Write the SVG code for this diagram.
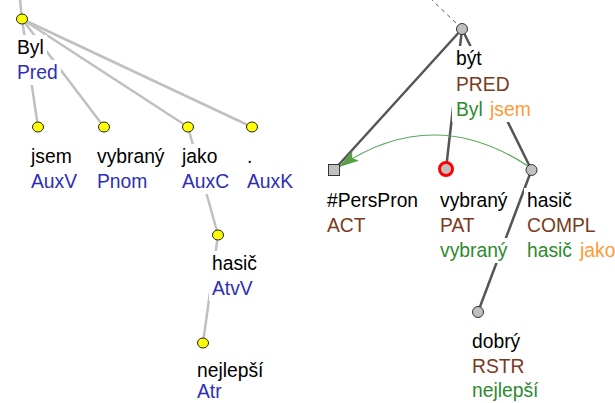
<svg xmlns="http://www.w3.org/2000/svg" width="615" height="403" viewBox="0 0 615 403">
<style>
text{font-family:"Liberation Sans",Arial,sans-serif;font-size:19.3px}
.w{fill:#000}
.af{fill:#2e2eb4}
.fn{fill:#7b3a20}
.gr{fill:#2d8a2d}
.or{fill:#ff9a36}
.bg{fill:#fff}
.la{stroke:#c0c0c0;stroke-width:2.5;fill:none;stroke-linecap:round}
.ld{stroke:#555;stroke-width:2.5;fill:none;stroke-linecap:round}
.ny{fill:#ffff00;stroke:#222;stroke-width:1}
.ng{fill:#c0c0c0;stroke:#333;stroke-width:1}
</style>
<defs>
<marker id="ah" markerUnits="userSpaceOnUse" markerWidth="24" markerHeight="14" viewBox="-22 -7 24 14" refX="0" refY="0" orient="auto">
<path d="M0,0 L-20,-6 L-16,0 L-20,6 Z" fill="#5a9e4a"/>
</marker>
</defs>
<g id="connectors">
<line class="la" x1="20" y1="0" x2="22" y2="19" stroke-width="2"/>
<line class="la" x1="22" y1="19" x2="38" y2="127"/>
<line class="la" x1="22" y1="19" x2="104" y2="127" stroke-width="1.5"/>
<line class="la" x1="22" y1="19" x2="188" y2="127" stroke-width="3"/>
<line class="la" x1="22" y1="19" x2="252" y2="127" stroke-width="3"/>
<line class="la" x1="188" y1="127" x2="218" y2="235"/>
<line class="la" x1="218" y1="235" x2="203" y2="343"/>
<line x1="430" y1="-2" x2="458" y2="25" stroke="#555" stroke-width="1" stroke-dasharray="4,4"/>
<line class="ld" x1="462" y1="29" x2="334" y2="170" stroke-width="3"/>
<line class="ld" x1="462" y1="29" x2="446" y2="169"/>
<line class="ld" x1="462" y1="29" x2="531.5" y2="170" stroke-width="2"/>
<line class="ld" x1="531.5" y1="170" x2="478" y2="312"/>
<path d="M528,166 Q432.5,103.5 339,167" fill="none" stroke="#5aa85a" stroke-width="1.2" marker-end="url(#ah)"/>
</g>
<g id="n-byl">
<ellipse class="ny" cx="22" cy="19" rx="5.5" ry="5"/>
<rect class="bg" x="14" y="35" width="33" height="25"/>
<rect class="bg" x="14" y="60" width="47" height="25"/>
<text class="w" x="17" y="54">Byl</text>
<text class="af" x="17" y="79">Pred</text>
</g>
<g id="n-jsem">
<ellipse class="ny" cx="38" cy="127" rx="5.5" ry="5"/>
<rect class="bg" x="28" y="144" width="47" height="25"/>
<rect class="bg" x="28" y="169" width="53" height="25"/>
<text class="w" x="31" y="163">jsem</text>
<text class="af" x="31" y="188">AuxV</text>
</g>
<g id="n-vybrany">
<ellipse class="ny" cx="104" cy="127" rx="5.5" ry="5"/>
<rect class="bg" x="94" y="144" width="74" height="25"/>
<rect class="bg" x="94" y="169" width="57" height="25"/>
<text class="w" x="97" y="163">vybraný</text>
<text class="af" x="97" y="188">Pnom</text>
</g>
<g id="n-jako">
<ellipse class="ny" cx="188" cy="127" rx="5.5" ry="5"/>
<rect class="bg" x="179" y="144" width="42" height="25"/>
<rect class="bg" x="179" y="169" width="54" height="25"/>
<text class="w" x="182" y="163">jako</text>
<text class="af" x="182" y="188">AuxC</text>
</g>
<g id="n-dot">
<ellipse class="ny" cx="252" cy="127" rx="5.5" ry="5"/>
<rect class="bg" x="244" y="144" width="11" height="25"/>
<rect class="bg" x="244" y="169" width="53" height="25"/>
<text class="w" x="247" y="163">.</text>
<text class="af" x="247" y="188">AuxK</text>
</g>
<g id="n-hasic">
<ellipse class="ny" cx="218" cy="235" rx="5.5" ry="5"/>
<rect class="bg" x="209" y="251" width="52" height="25"/>
<rect class="bg" x="209" y="276" width="47" height="25"/>
<text class="w" x="212" y="270">hasič</text>
<text class="af" x="212" y="295">AtvV</text>
</g>
<g id="n-nejlepsi">
<ellipse class="ny" cx="203" cy="343" rx="5.5" ry="5"/>
<rect class="bg" x="194" y="359" width="73" height="24"/>
<rect class="bg" x="194" y="383" width="31" height="20"/>
<text class="w" x="197" y="377">nejlepší</text>
<text class="af" x="197" y="398">Atr</text>
</g>
<g id="t-byt">
<circle class="ng" cx="462" cy="29" r="5.5"/>
<rect class="bg" x="452" y="46" width="34" height="26"/>
<rect class="bg" x="452" y="72" width="62" height="26"/>
<rect class="bg" x="452" y="97" width="33" height="25"/>
<rect class="bg" x="487" y="97" width="48" height="25"/>
<text class="w" x="456" y="65">být</text>
<text class="fn" x="456" y="91">PRED</text>
<text class="gr" x="456" y="116">Byl</text>
<text class="or" x="490" y="116">jsem</text>
</g>
<g id="t-perspron">
<rect class="ng" x="328.5" y="164.5" width="11" height="11"/>
<rect class="bg" x="324" y="188" width="98" height="25"/>
<rect class="bg" x="324" y="213" width="45" height="25"/>
<text class="w" x="327" y="207">#PersPron</text>
<text class="fn" x="327" y="232">ACT</text>
</g>
<g id="t-vybrany">
<circle cx="446" cy="169" r="6.5" fill="#c0c0c0" stroke="#ff0000" stroke-width="3"/>
<rect class="bg" x="437" y="188" width="71" height="25"/>
<rect class="bg" x="437" y="213" width="44" height="25"/>
<rect class="bg" x="437" y="238" width="71" height="25"/>
<text class="w" x="440" y="207">vybraný</text>
<text class="fn" x="440" y="232">PAT</text>
<text class="gr" x="440" y="257">vybraný</text>
</g>
<g id="t-hasic">
<circle class="ng" cx="531.5" cy="170" r="5.5"/>
<rect class="bg" x="524" y="188" width="52" height="25"/>
<rect class="bg" x="524" y="213" width="75" height="25"/>
<rect class="bg" x="524" y="238" width="52" height="25"/>
<rect class="bg" x="577" y="238" width="38" height="25"/>
<text class="w" x="527" y="207">hasič</text>
<text class="fn" x="527" y="232">COMPL</text>
<text class="gr" x="527" y="257">hasič</text>
<text class="or" x="580" y="257">jako</text>
</g>
<g id="t-dobry">
<circle class="ng" cx="478" cy="312" r="5.5"/>
<rect class="bg" x="469" y="329" width="55" height="25"/>
<rect class="bg" x="469" y="354" width="58" height="25"/>
<rect class="bg" x="469" y="379" width="73" height="24"/>
<text class="w" x="472" y="348">dobrý</text>
<text class="fn" x="472" y="373">RSTR</text>
<text class="gr" x="472" y="397">nejlepší</text>
</g>
</svg>
